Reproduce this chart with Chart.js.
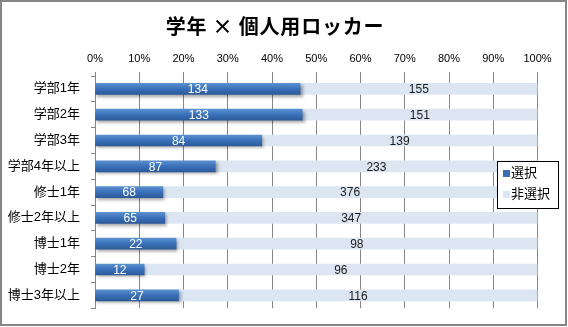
<!DOCTYPE html>
<html>
<head>
<meta charset="utf-8">
<script src="https://cdn.jsdelivr.net/npm/chart.js@4.4.1/dist/chart.umd.min.js"></script>
<style>
html,body{margin:0;padding:0;background:#fff;}
#wrap{width:568px;height:327px;}
</style>
</head>
<body>
<div id="wrap"><canvas id="c" width="568" height="327"></canvas></div>
<script>
const title = '学年 × 個人用ロッカー';
const categories = ['学部1年','学部2年','学部3年','学部4年以上','修士1年','修士2年以上','博士1年','博士2年','博士3年以上'];
const seriesNames = ['選択','非選択'];
const selected = [134,133,84,87,68,65,22,12,27];
const notSelected = [155,151,139,233,376,347,98,96,116];
const xTicks = [0,10,20,30,40,50,60,70,80,90,100];

const FONT = "'Liberation Sans', 'Noto Sans CJK JP', sans-serif";
const CJK = "'Noto Sans CJK JP', sans-serif";
const totals = selected.map((v,i)=>v+notSelected[i]);
const pct = arr => arr.map((v,i)=>v/totals[i]*100);
const raw = [selected, notSelected];

function blueFill(ctx){
  const chart = ctx.chart;
  const ys = chart.scales && chart.scales.y;
  if(!ys || ctx.dataIndex === undefined) return '#3a6eb3';
  const yc = ys.getPixelForValue(ctx.dataIndex);
  if(!isFinite(yc)) return '#3a6eb3';
  const g = chart.ctx.createLinearGradient(0, yc-5.5, 0, yc+5.5);
  g.addColorStop(0, '#5a90d0');
  g.addColorStop(0.5, '#3a70b8');
  g.addColorStop(1, '#2b5a9a');
  return g;
}

const decor = {
  id:'decor',
  beforeDatasetDraw(chart, args){
    if(args.index === 0){
      const c = chart.ctx;
      c.save();
      c.shadowColor = 'rgba(0,0,0,0.35)';
      c.shadowOffsetX = 2;
      c.shadowOffsetY = 2;
      c.shadowBlur = 3;
    }
  },
  afterDatasetDraw(chart, args){
    if(args.index === 0){ chart.ctx.restore(); }
  },
  afterDatasetsDraw(chart){
    const c = chart.ctx;
    c.save();
    c.font = '12px ' + FONT;
    c.textAlign = 'center';
    c.textBaseline = 'middle';
    chart.data.datasets.forEach((ds, di)=>{
      const meta = chart.getDatasetMeta(di);
      meta.data.forEach((el, i)=>{
        const p = el.getCenterPoint();
        c.fillStyle = di === 0 ? '#ffffff' : '#1a1a1a';
        c.fillText(String(raw[di][i]), p.x, p.y + 1);
      });
    });
    c.restore();
  },
  afterDraw(chart){
    const c = chart.ctx;
    c.save();
    c.font = 'bold 20px ' + CJK;
    if ('letterSpacing' in c) c.letterSpacing = '0.8px';
    c.fillStyle = '#000';
    c.textAlign = 'center';
    c.textBaseline = 'middle';
    c.fillText(title, 275, 26);
    if ('letterSpacing' in c) c.letterSpacing = '0px';
    c.fillStyle = '#fff';
    c.fillRect(497, 161, 62, 48);
    c.strokeStyle = '#000';
    c.lineWidth = 1;
    c.strokeRect(497.5, 161.5, 61, 47);
    const colors = ['#3a6eb3', '#dce6f2'];
    const ly = [173.5, 194.5];
    c.font = '13px ' + FONT;
    c.textAlign = 'left';
    seriesNames.forEach((n, i)=>{
      c.fillStyle = colors[i];
      c.fillRect(503, ly[i]-3.5, 7, 7);
      c.fillStyle = '#000';
      c.fillText(n, 511, ly[i]);
    });
    c.strokeStyle = '#868686';
    c.lineWidth = 2;
    c.strokeRect(1, 1, 565, 324);
    c.restore();
  }
};

new Chart(document.getElementById('c'), {
  type:'bar',
  data:{
    labels: categories,
    datasets:[
      {label: seriesNames[0], data: pct(selected), backgroundColor: blueFill, barThickness: 11},
      {label: seriesNames[1], data: pct(notSelected), backgroundColor: '#dce6f2', barThickness: 11}
    ]
  },
  options:{
    indexAxis:'y',
    responsive:false,
    animation:false,
    devicePixelRatio:1,
    layout:{padding:{left:0, right:30.5, top:0, bottom:15}},
    plugins:{
      legend:{display:false},
      title:{display:false},
      tooltip:{enabled:false}
    },
    scales:{
      x:{
        position:'top',
        stacked:true,
        min:0, max:100,
        afterBuildTicks(s){ s.ticks = xTicks.map(v=>({value:v})); },
        afterFit(s){ s.height = 76; },
        ticks:{callback:v=>v+'%', font:{size:11, family:FONT}, color:'#000', padding:6, maxRotation:0, autoSkip:false},
        grid:{color:'#868686', lineWidth:1, tickLength:4, drawTicks:true},
        border:{display:false}
      },
      y:{
        stacked:true,
        afterFit(s){ s.width = 95; },
        ticks:{font:{size:13, family:FONT}, color:'#000', padding:11},
        grid:{drawOnChartArea:false, color:'#868686', tickLength:4, offset:true},
        border:{display:true, color:'#868686', width:1}
      }
    }
  },
  plugins:[decor]
});
</script>
</body>
</html>
